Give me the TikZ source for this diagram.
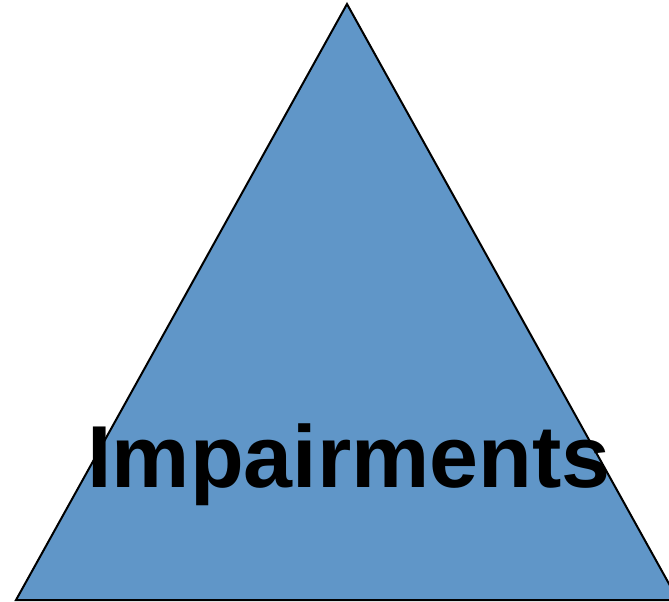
\documentclass[tikz,border=0pt]{standalone}
\usepackage{fontspec}
\setmainfont{Liberation Sans}
\definecolor{triblue}{RGB}{96,150,200}
\begin{document}
\begin{tikzpicture}[x=1pt,y=-1pt,
  tri/.style={fill=triblue,draw=black,line width=2pt,line join=miter},
  lbl/.style={font=\fontsize{88}{100}\selectfont\bfseries,text=black,inner sep=0pt,anchor=base}]
\useasboundingbox (0,0) rectangle (669,602);
\clip (0,0) rectangle (669,602);
\draw[tri] (347,4) coordinate (apex) -- (678,600) coordinate (br) -- (16,600) coordinate (bl) -- cycle;
\node[lbl] (label) at (349,487) {Impairments};
\end{tikzpicture}
\end{document}
